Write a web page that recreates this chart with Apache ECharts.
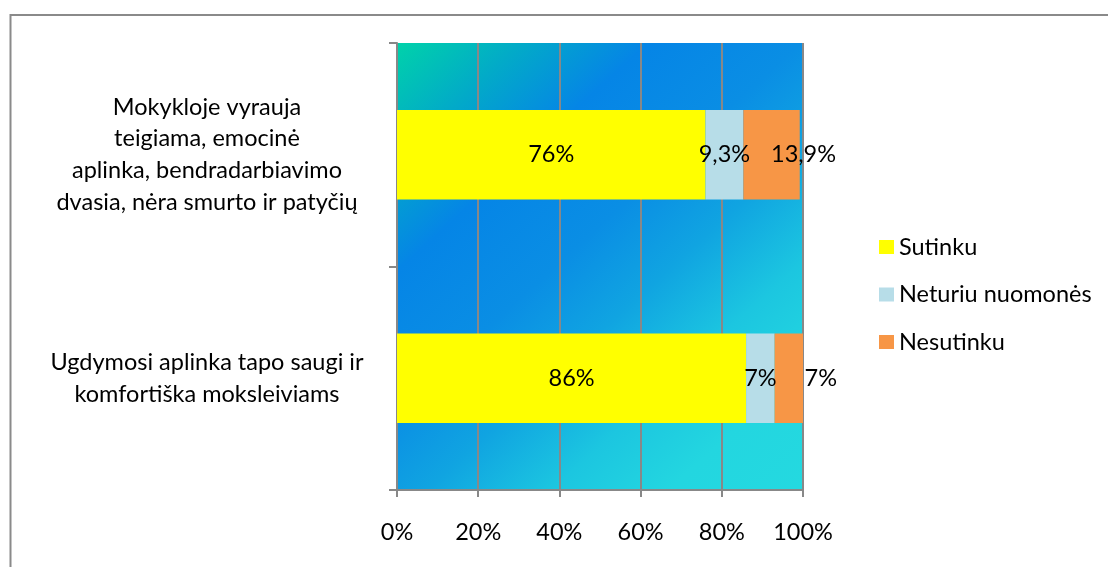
<!DOCTYPE html>
<html>
<head>
<meta charset="utf-8">
<script src="https://cdn.jsdelivr.net/npm/echarts@6/dist/echarts.min.js"></script>
<style>
  html, body { margin: 0; padding: 0; background: #fff; }
  #chart { width: 1108px; height: 567px; }
</style>
</head>
<body>
<div id="chart"></div>
<script>
// Survey statements (top to bottom)
const categories = [
  'Mokykloje vyrauja\nteigiama, emocinė\naplinka, bendradarbiavimo\ndvasia, nėra smurto ir patyčių',
  'Ugdymosi aplinka tapo saugi ir\nkomfortiška moksleiviams'
];
// Answer shares, percent
const sutinku = [76, 86];
const neturiuNuomones = [9.3, 7];
const nesutinku = [13.9, 7];
const seriesNames = ['Sutinku', 'Neturiu nuomonės', 'Nesutinku'];
const xTicks = [0, 20, 40, 60, 80, 100];

const FONT = 'Lato, "Open Sans", sans-serif';
const FS = 23.5;
const fmtPct = v => String(v).replace('.', ',') + '%';

const chart = echarts.init(document.getElementById('chart'));

const plotFill = new echarts.graphic.LinearGradient(0, 0, 1, 1, [
  { offset: 0.00, color: '#00d2aa' },
  { offset: 0.14, color: '#02aac8' },
  { offset: 0.28, color: '#0585e6' },
  { offset: 0.45, color: '#0a8ee4' },
  { offset: 0.58, color: '#10a4e1' },
  { offset: 0.72, color: '#1cc6e0' },
  { offset: 0.85, color: '#23d6e0' },
  { offset: 1.00, color: '#24d9e0' }
]);

const labelBase = {
  show: true,
  position: 'inside',
  color: '#000',
  fontFamily: FONT,
  fontSize: FS,
  formatter: p => fmtPct(p.value)
};

chart.setOption({
  backgroundColor: '#fff',
  animation: false,
  graphic: [{
    type: 'rect',
    silent: true,
    z: -10,
    shape: { x: 10.5, y: 15, width: 1200, height: 700 },
    style: { fill: 'none', stroke: '#8a8a8a', lineWidth: 2 }
  }],
  grid: {
    left: 397, top: 43, right: 305, bottom: 77,
    show: true,
    backgroundColor: plotFill,
    borderWidth: 0
  },
  legend: {
    orient: 'vertical',
    left: 874,
    top: 230,
    itemWidth: 15,
    itemHeight: 14,
    itemGap: 23.5,
    icon: 'rect',
    textStyle: { color: '#000', fontFamily: FONT, fontSize: FS, lineHeight: FS, padding: [0, 0, 0, 0] },
    data: seriesNames
  },
  xAxis: {
    type: 'value',
    min: xTicks[0],
    max: xTicks[xTicks.length - 1],
    interval: 20,
    axisLine: { show: true, lineStyle: { color: '#888', width: 2 } },
    axisTick: { show: true, length: 7, lineStyle: { color: '#888', width: 2 } },
    splitLine: { show: true, lineStyle: { color: '#888', width: 2 } },
    axisLabel: {
      color: '#000', fontFamily: FONT, fontSize: FS, margin: 30,
      formatter: v => v + '%'
    }
  },
  yAxis: {
    type: 'category',
    inverse: true,
    data: categories,
    axisLine: { show: true, lineStyle: { color: '#888', width: 2 } },
    axisTick: { show: true, length: 8, lineStyle: { color: '#888', width: 2 } },
    axisLabel: {
      color: '#000', fontFamily: FONT, fontSize: FS, lineHeight: 31.7,
      align: 'center', margin: 190
    }
  },
  series: [
    {
      name: seriesNames[0], type: 'bar', stack: 'total', data: sutinku,
      barCategoryGap: '60%',
      itemStyle: { color: '#ffff00' },
      label: labelBase
    },
    {
      name: seriesNames[1], type: 'bar', stack: 'total', data: neturiuNuomones,
      itemStyle: { color: '#b7dde8' },
      label: labelBase
    },
    {
      name: seriesNames[2], type: 'bar', stack: 'total', data: nesutinku,
      itemStyle: { color: '#f79646' },
      label: Object.assign({}, labelBase, { offset: [32, 0] })
    }
  ]
});
</script>
</body>
</html>
